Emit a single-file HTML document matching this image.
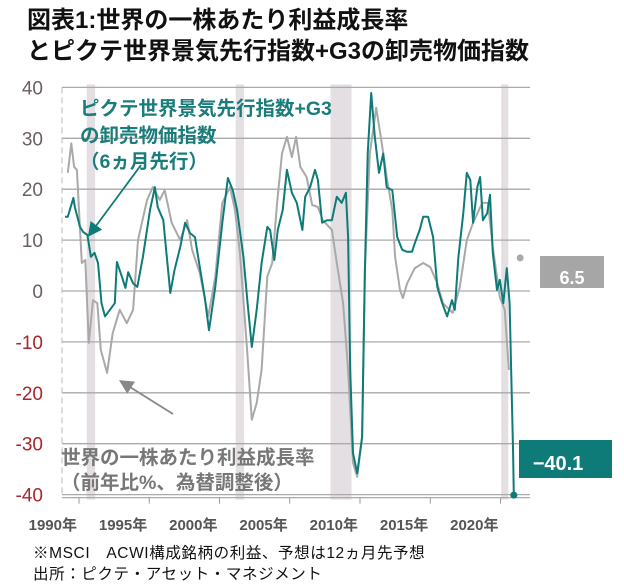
<!DOCTYPE html>
<html><head><meta charset="utf-8">
<style>
body{margin:0;background:#fff;width:624px;height:586px;overflow:hidden;font-family:"Liberation Sans","Noto Sans CJK JP",sans-serif;}
.t{position:absolute;white-space:nowrap;}
</style></head>
<body>
<div class="t" style="left:27px;top:5px;font-size:24px;font-weight:bold;line-height:31px;color:#111;">図表1:世界の一株あたり利益成長率<br>とピクテ世界景気先行指数+G3の卸売物価指数</div>
<svg id="c" width="624" height="586" style="position:absolute;left:0;top:0"></svg>
<div class="t" style="left:33px;top:543px;font-size:15.5px;line-height:21px;color:#111;letter-spacing:0.6px;">※MSCI　ACWI構成銘柄の利益、予想は12ヵ月先予想<br>出所：ピクテ・アセット・マネジメント</div>
<script>
const yTicks=[40,30,20,10,0,-10,-20,-30,-40];
const xYears=[1990,1995,2000,2005,2010,2015,2020];
const recessions=[[1990.55,1991.15],[2001.15,2001.75],[2007.9,2009.4],[2020.05,2020.55]];
const leadT=[1989.0,1989.2,1989.6,1989.7,1990.07,1990.3,1990.6,1990.85,1991.1,1991.35,1991.6,1991.85,1992.2,1992.55,1992.7,1993.05,1993.3,1993.5,1993.85,1994.15,1994.55,1995.05,1995.4,1995.6,1996.0,1996.25,1996.5,1996.8,1997.2,1997.55,1997.9,1998.25,1998.6,1998.95,1999.25,1999.7,2000.2,2000.6,2000.95,2001.25,2001.7,2002.0,2002.3,2002.65,2003.0,2003.4,2003.6,2003.9,2004.15,2004.5,2004.8,2005.15,2005.5,2005.9,2006.1,2006.45,2006.8,2007.0,2007.3,2007.65,2008.0,2008.35,2008.7,2009.0,2009.15,2009.3,2009.5,2009.8,2010.15,2010.35,2010.55,2010.8,2011.05,2011.35,2011.65,2011.9,2012.3,2012.65,2013.0,2013.35,2013.7,2013.9,2014.25,2014.5,2014.85,2015.2,2015.5,2015.85,2016.2,2016.55,2016.75,2017.0,2017.35,2017.6,2017.85,2018.05,2018.35,2018.55,2018.75,2019.05,2019.25,2019.45,2019.75,2019.95,2020.2,2020.45,2020.65,2020.9,2020.95];
const leadV=[14.6,14.6,18.3,16.5,12.6,11.6,11,6.7,7.5,5.5,-2.4,-5,-3.7,-2.4,5.7,2.8,0.6,3.7,1.5,0.8,6.7,15.9,20.4,16.5,13.9,6.7,-0.4,4.1,8.6,13.4,11.4,10.6,4.7,-1.2,-7.7,0.8,13.4,22.2,19.8,15.9,6.7,-2.4,-11,-3.7,5.5,12.6,12,6.1,12,15.9,23.8,19.3,17.3,12,18.5,20.4,23.8,21.8,13.4,13.9,13.9,18.5,17.3,19.3,10.6,-15.5,-31.8,-35.8,-28.7,4.1,27,38.9,30.3,23.2,27,20.4,19.8,10.6,8.1,7.7,7.7,9.4,12,14.6,14.6,10.6,0.8,-2.4,-5,-1.8,-3.7,6.7,15.3,23.2,21.8,13.4,20.4,22.4,13.9,15.3,18.9,7.5,0.2,2.2,-2.4,4.5,-2.4,-31.8,-40.1];
const epsT=[1989.2,1989.45,1989.65,1989.85,1990.2,1990.45,1990.7,1991.0,1991.3,1991.55,1992.0,1992.4,1992.9,1993.4,1993.85,1994.2,1994.85,1995.25,1995.75,1996.1,1996.6,1997.2,1997.7,1998.05,1998.6,1999.2,1999.7,2000.2,2000.75,2001.1,2001.45,2001.95,2002.3,2002.65,2003.0,2003.4,2003.75,2004.1,2004.45,2004.8,2005.15,2005.45,2005.75,2006.2,2006.6,2007.0,2007.35,2008.0,2008.35,2008.8,2009.15,2009.5,2009.8,2010.15,2010.35,2010.7,2011.15,2011.55,2011.9,2012.3,2012.5,2012.85,2013.05,2013.35,2013.9,2014.5,2015.0,2015.5,2015.9,2016.6,2017.1,2017.6,2018.05,2018.7,2019.1,2019.45,2019.95,2020.3,2020.6];
const epsV=[23.2,29,24.4,23.8,5.5,6.1,-10.2,-1.8,-2.4,-11.6,-16.1,-8.3,-3.7,-6.3,-3.7,10,17.9,20.4,17.9,19.8,13.4,10,13.9,8.1,3.5,-5,2.8,17.3,20.4,15.9,7.5,-11,-25.3,-22,-15.5,2.8,5.5,17.3,27,30.3,26.3,30.3,24.4,22.4,16.9,16.5,13.9,12,5.5,-2.4,-15.5,-33.8,-36.5,-28.7,4.1,27,36,29,22.4,15.9,6.7,0.2,-1.4,1.5,4.5,5.5,4.7,1.5,-2.4,-4.3,0.8,10,13.4,17.3,17.3,8.6,-1.2,-3.7,-15.5];
const forecastT=[2021.4];
const forecastV=[6.5];

const NS='http://www.w3.org/2000/svg';
const svg=document.getElementById('c');
const X0=62,X1=530;
function xs(t){return 79+(t-1990)*14.05;}
function ys(v){return 291-v*5.09;}
function mk(tag,attrs,parent){const e=document.createElementNS(NS,tag);for(const k in attrs)e.setAttribute(k,attrs[k]);(parent||svg).appendChild(e);return e;}

recessions.forEach(r=>{
  const e=mk('rect',{x:xs(r[0]),y:ys(40)-3,width:xs(r[1])-xs(r[0]),height:ys(-40)-ys(40)+8,fill:'#e4dfe3'});
  
  
});
yTicks.forEach(v=>{
  const g=mk('line',{x1:X0,x2:X1,y1:ys(v),y2:ys(v),stroke:'#aaa','stroke-width':1.3});
  
  
  const t=mk('text',{x:43,y:ys(v)+7,'text-anchor':'end','font-size':19,fill:v<0?'#a8262c':'#6a6060'});
  t.textContent=String(v);
  
  
});
mk('line',{x1:X0,x2:X1,y1:ys(-40)+3,y2:ys(-40)+3,stroke:'#aaa','stroke-width':1.3});
const ax=mk('line',{x1:X0,x2:X0,y1:ys(40),y2:ys(-40)+3,stroke:'#bbb','stroke-width':1,'stroke-dasharray':'6 4'});


xYears.forEach(y=>{
  const tk=mk('line',{x1:xs(y),x2:xs(y),y1:ys(-40)+3,y2:ys(-40)+9,stroke:'#999'});
  
  
  const t=mk('text',{x:xs(y)-2,y:530,'text-anchor':'end','font-size':15,'font-weight':'bold',fill:'#555'});
  t.textContent=y+'年';
  
  
});
function line(T,V,color,name){
  let d='';T.forEach((t,i)=>{d+=(i?'L':'M')+xs(t).toFixed(1)+','+ys(V[i]).toFixed(1);});
  const p=mk('path',{d:d,fill:'none',stroke:color,'stroke-width':2,'stroke-linejoin':'round'});
  
  
}
line(epsT,epsV,'#a9a9a9','eps-growth-line');
line(leadT,leadV,'#0e7b78','leading-index-line');
const ed=mk('circle',{cx:xs(leadT[leadT.length-1]),cy:ys(leadV[leadV.length-1]),r:3.5,fill:'#0e7b78'});


const fd=mk('circle',{cx:xs(forecastT[0]),cy:ys(forecastV[0]),r:3.5,fill:'#a9a9a9'});



const gb=mk('rect',{x:540,y:256,width:64,height:32,fill:'#a6a6a6'});


const gt=mk('text',{x:572,y:284,'text-anchor':'middle','font-size':18,'font-weight':'bold',fill:'#fff'});
gt.textContent=forecastV[0].toFixed(1);


const tb=mk('rect',{x:519,y:440,width:93,height:38,fill:'#0e7b78'});


const tt=mk('text',{x:558,y:470,'text-anchor':'middle','font-size':20,'font-weight':'bold',fill:'#fff'});
tt.textContent='−'+Math.abs(leadV[leadV.length-1]).toFixed(1);



function txt(s,x,y,c,name,fs){const t=mk('text',{x:x,y:y,'font-size':fs,'font-weight':'bold',fill:c});t.textContent=s;}
txt('ピクテ世界景気先行指数+G3',80,115,'#1a7d7b','leading-index-annotation',19.5);
txt('の卸売物価指数',80,142,'#1a7d7b','leading-index-annotation-2',19.5);
txt('（6ヵ月先行）',80,168,'#1a7d7b','leading-index-annotation-3',19.5);
txt('世界の一株あたり利益成長率',61,464,'#777','eps-annotation',19.5);
txt('（前年比%、為替調整後）',61,489,'#777','eps-annotation-2',19.5);
mk('defs',{}).innerHTML='<marker id="ma" markerWidth="8" markerHeight="8" refX="6" refY="4" orient="auto"><path d="M0,0L8,4L0,8z" fill="#0e7b78"/></marker><marker id="mg" markerWidth="8" markerHeight="8" refX="6" refY="4" orient="auto"><path d="M0,0L8,4L0,8z" fill="#888"/></marker>';
const a1=mk('line',{x1:141,y1:165,x2:90,y2:234,stroke:'#0e7b78','stroke-width':1.8,'marker-end':'url(#ma)'});


const a2=mk('line',{x1:173,y1:414,x2:122,y2:382,stroke:'#888','stroke-width':1.8,'marker-end':'url(#mg)'});


</script>
</body></html>
